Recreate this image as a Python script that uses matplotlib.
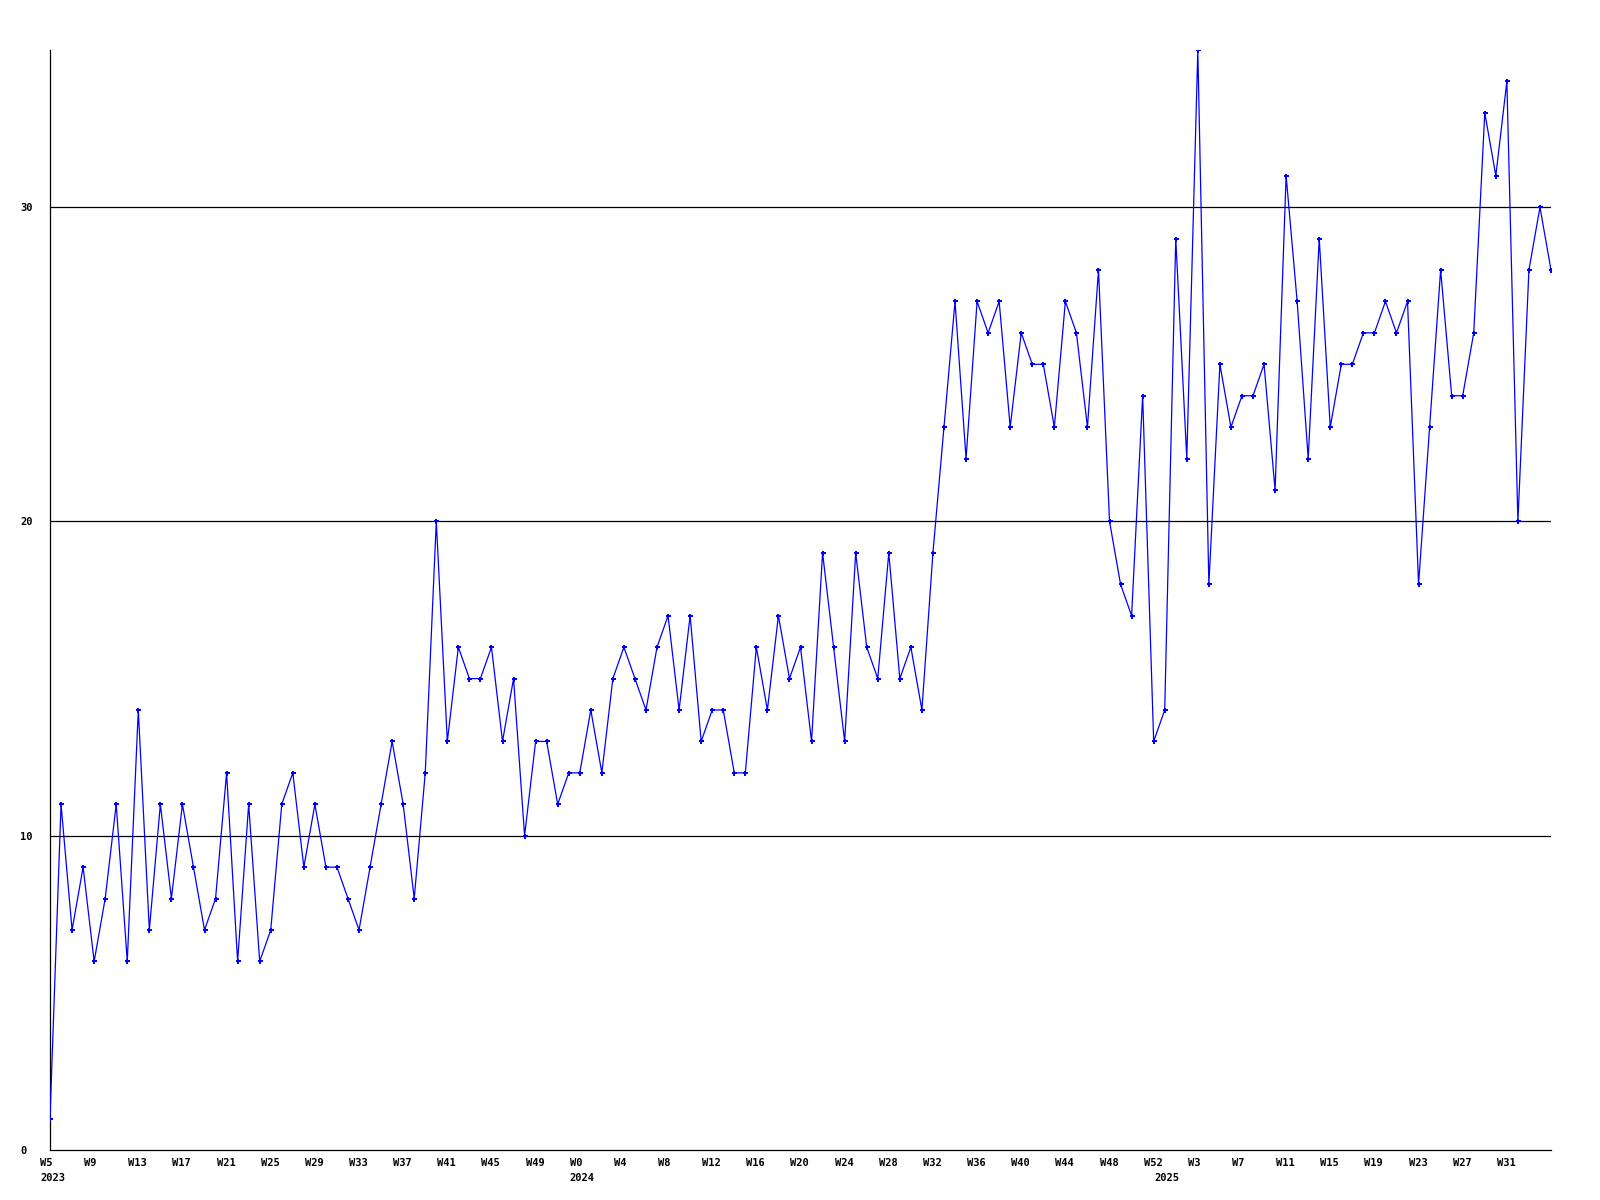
import numpy as np
import matplotlib
matplotlib.use("Agg")
import matplotlib.pyplot as plt
import matplotlib.transforms as mtransforms

# weekly counts, 2023 W5 .. 2025 W35
values_2023 = [1, 11, 7, 9, 6, 8, 11, 6, 14, 7, 11, 8, 11, 9, 7, 8, 12, 6, 11, 6,
               7, 11, 12, 9, 11, 9, 9, 8, 7, 9, 11, 13, 11, 8, 12, 20, 13, 16, 15, 15,
               16, 13, 15, 10, 13, 13, 11, 12]
values_2024 = [12, 14, 12, 15, 16, 15, 14, 16, 17, 14, 17, 13, 14, 14, 12, 12, 16, 14,
               17, 15, 16, 13, 19, 16, 13, 19, 16, 15, 19, 15, 16, 14, 19, 23, 27, 22,
               27, 26, 27, 23, 26, 25, 25, 23, 27, 26, 23, 28, 20, 18, 17, 24, 13]
values_2025 = [14, 29, 22, 35, 18, 25, 23, 24, 24, 25, 21, 31, 27, 22, 29, 23, 25, 25,
               26, 26, 27, 26, 27, 18, 23, 28, 24, 24, 26, 33, 31, 34, 20, 28, 30, 28]

week_start_2023 = 5
week_start_2024 = 0
week_start_2025 = 0
years = ["2023", "2024", "2025"]
y_ticks = [0, 10, 20, 30]

values = values_2023 + values_2024 + values_2025
weeks = (list(range(week_start_2023, week_start_2023 + len(values_2023)))
         + list(range(week_start_2024, week_start_2024 + len(values_2024)))
         + list(range(week_start_2025, week_start_2025 + len(values_2025))))
x = np.arange(len(values))
year_starts = [0, len(values_2023), len(values_2023) + len(values_2024)]

fig = plt.figure(figsize=(16, 12), dpi=100)
ax = fig.add_axes([50 / 1600, 50 / 1200, 1501 / 1600, 1100 / 1200])

for yv in y_ticks[1:]:
    ax.axhline(yv, color="black", linewidth=0.9, zorder=1)

ax.plot(x, values, color="#0000ff", linewidth=0.9, marker="P", markersize=3.6,
        markeredgewidth=0, zorder=3)

ax.set_xlim(0, len(values) - 1)
ax.set_ylim(0, 35)

for side in ["top", "right"]:
    ax.spines[side].set_visible(False)
for side in ["left", "bottom"]:
    ax.spines[side].set_linewidth(0.9)
    ax.spines[side].set_color("black")

font = dict(family="DejaVu Sans Mono", weight="bold", size=7.5)

ax.set_yticks(y_ticks)
ax.set_yticklabels([str(v) for v in y_ticks], **font)
ax.tick_params(axis="y", length=0, pad=21.6)
for lab in ax.get_yticklabels():
    lab.set_horizontalalignment("left")

# a label every 4 weeks, not at the right edge
tick_idx = [i for i in x if i % 4 == 0 and i < len(values) - 1]
ax.set_xticks(tick_idx)
ax.set_xticklabels(["W%d" % weeks[i] for i in tick_idx], **font)
ax.tick_params(axis="x", length=0, pad=6)
offset = mtransforms.ScaledTranslation(-10 / 100, 0, fig.dpi_scale_trans)
for lab in ax.get_xticklabels():
    lab.set_horizontalalignment("left")
    lab.set_transform(lab.get_transform() + offset)

trans = mtransforms.blended_transform_factory(ax.transData, ax.transAxes)
ytrans = trans + mtransforms.ScaledTranslation(-10 / 100, -23 / 100, fig.dpi_scale_trans)
for yr, i in zip(years, year_starts):
    ax.text(i, 0, yr, transform=ytrans, ha="left", va="top", **font)

fig.savefig("out.png", dpi=100, facecolor="white")
